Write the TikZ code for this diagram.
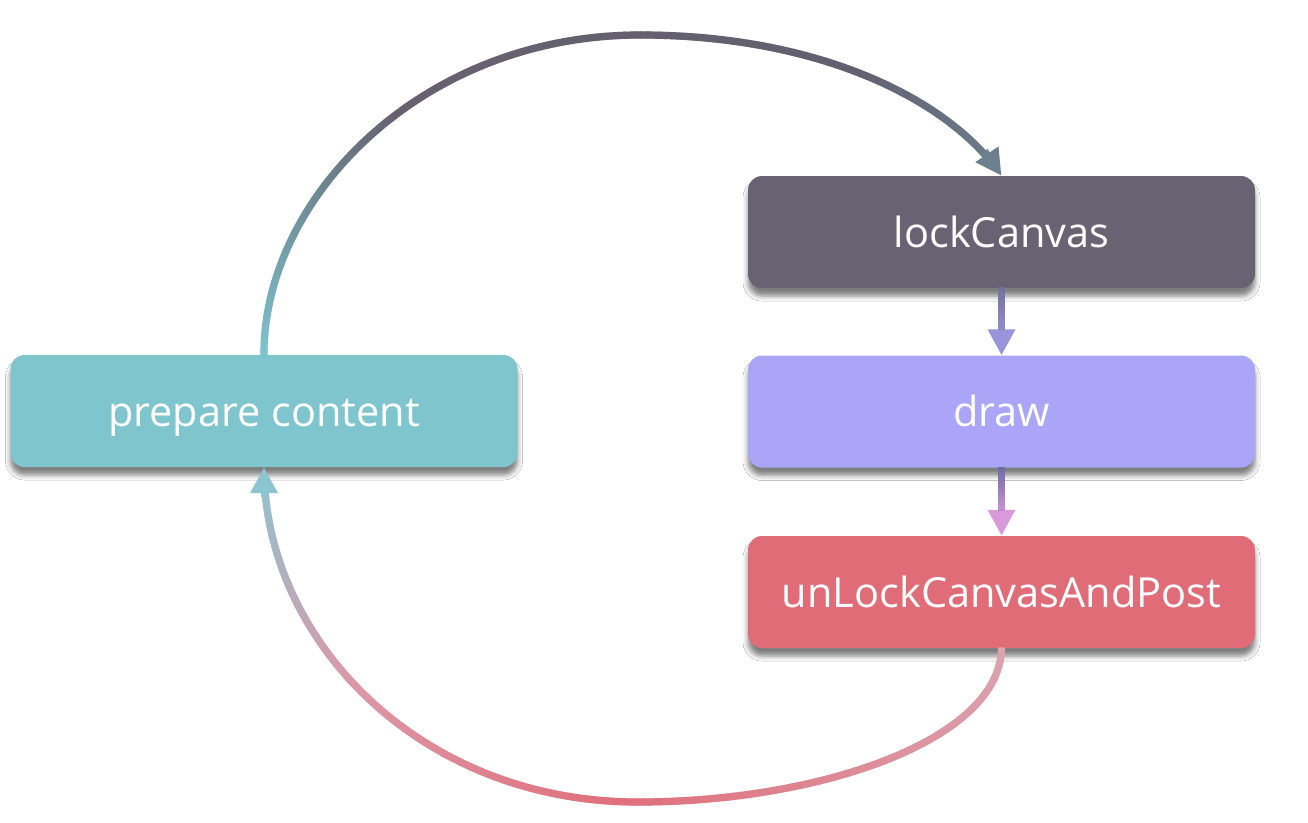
\documentclass[tikz,border=0pt]{standalone}
\usepackage{fontspec}
\setmainfont{Open Sans}
\usetikzlibrary{arrows.meta,decorations.markings,shadows.blur,calc}
\definecolor{cLock}{HTML}{686373}
\definecolor{cDraw}{HTML}{AAA5F6}
\definecolor{cUnlock}{HTML}{E06C77}
\definecolor{cPrep}{HTML}{7EC5CE}
% top curve
\definecolor{tA}{HTML}{7CC4CD}
\definecolor{tB}{HTML}{66616F}
\definecolor{tC}{HTML}{626070}
\definecolor{tD}{HTML}{6D808F}
% bottom curve
\definecolor{bA}{HTML}{DBA3B1}
\definecolor{bB}{HTML}{E06F7B}
\definecolor{bC}{HTML}{DC98A8}
\definecolor{bD}{HTML}{8CC5D1}
% short arrows
\definecolor{sA}{HTML}{75709A}
\definecolor{sB}{HTML}{9893DA}
\definecolor{sC}{HTML}{6F6AA6}
\definecolor{sD}{HTML}{D89AD9}
\tikzset{
  stepbox/.style={rectangle, rounded corners=14pt, minimum width=507pt,
    minimum height=112pt, inner sep=0pt, text=white,
    text height=30pt, text depth=0pt,
    font=\fontsize{41.5}{48}\selectfont,
    blur shadow={shadow xshift=0pt, shadow yshift=-8pt,
      shadow blur radius=5pt, shadow opacity=50}},
  gstroke/.style n args={7}{%
    postaction={decorate, decoration={markings,
      mark=between positions 0 and #7 step 1.2pt with {%
        \pgfmathsetmacro\pp{\pgfkeysvalueof{/pgf/decoration/mark info/distance from start}/\pgfdecoratedpathlength}%
        \ifdim\pp pt<#2pt
          \pgfmathsetmacro\gt{100*\pp/#2}\colorlet{mixc}{#3!\gt!#1}%
        \else\ifdim\pp pt<#4pt
          \pgfmathsetmacro\gt{100*(\pp-#2)/(#4-#2)}\colorlet{mixc}{#5!\gt!#3}%
        \else
          \pgfmathsetmacro\gt{100*(\pp-#4)/(1-#4)}\colorlet{mixc}{#6!\gt!#5}%
        \fi\fi
        \fill[mixc] (-0.9pt,-3.6pt) rectangle (0.9pt,3.6pt);
      }}}},
  flowtip/.style={line width=7pt, -{Triangle[length=26pt,width=26pt]}},
}
\begin{document}
\begin{tikzpicture}[x=1pt,y=-1pt]
\useasboundingbox[fill=white] (0,0) rectangle (1308,822);

\node[stepbox, fill=cLock]   (lock)   at (1001.5,232)   {lockCanvas};
\node[stepbox, fill=cDraw]   (drw)    at (1001.5,411.5) {draw};
\node[stepbox, fill=cUnlock] (unlock) at (1001.5,592)   {unLockCanvasAndPost};
\node[stepbox, fill=cPrep]   (prep)   at (264,411)      {prepare content};

% top loop: prepare content -> lockCanvas
\path[gstroke={tA}{0.3}{tB}{0.8}{tC}{tD}{0.985}]
  (prep.north) .. controls (263,200) and (420,35) .. (640,35)
  .. controls (820,35) and (950,100) .. (lock.north);
\draw[flowtip, tD] ($(lock.north)!30pt!(950,100)$) -- (lock.north);

% bottom loop: unLockCanvasAndPost -> prepare content
\path[gstroke={bA}{0.45}{bB}{0.75}{bC}{bD}{0.985}]
  (unlock.south) .. controls (1000,740) and (820,802) .. (638,802)
  .. controls (420,802) and (264,640) .. (prep.south);
\draw[flowtip, bD] ($(prep.south)!30pt!(264,640)$) -- (prep.south);

% short arrows
\draw[flowtip, sB, gstroke={sA}{0.3}{sA!60!sB}{0.6}{sA!30!sB}{sB}{0.62}]
  (lock.south) -- (drw.north);
\draw[flowtip, sD, gstroke={sC}{0.3}{sC!60!sD}{0.6}{sC!30!sD}{sD}{0.62}]
  (drw.south) -- (unlock.north);
\end{tikzpicture}
\end{document}
